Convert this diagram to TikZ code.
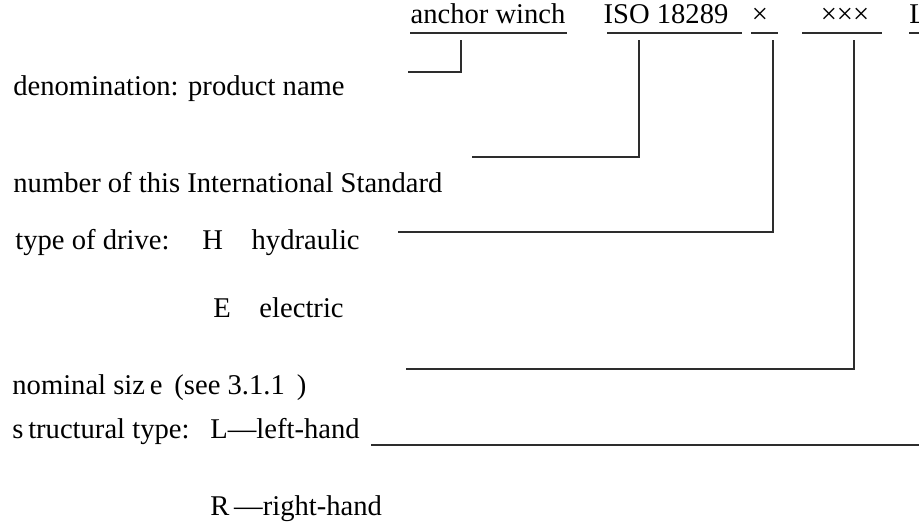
\documentclass[tikz,border=0pt]{standalone}
\usepackage{fontspec}
\setmainfont{Liberation Serif}
\definecolor{rule}{RGB}{45,45,45}
\begin{document}
\begin{tikzpicture}[x=0.5pt,y=-0.5pt,
    lbl/.style={anchor=base west, inner sep=0pt, font=\fontsize{14.3}{16}\selectfont},
    field/.style={anchor=base, inner sep=0pt, font=\fontsize{14.3}{16}\selectfont},
    conn/.style={line width=1pt, draw=rule}]
  \useasboundingbox (0,0) rectangle (919,521);

  % designation fields
  \node[field] (name)  at (488,23) {anchor winch};
  \node[field] (std)   at (666,23) {ISO 18289};
  \node[field] (drive) at (760,23) {×};
  \node[field] (size)  at (845,23) {×××};
  \node[field, anchor=base west] (kind) at (909,23) {L};
  \foreach \a/\b in {410/567, 607/742, 751/778, 802/882, 909/925}
    \draw[conn] (\a,33) -- (\b,33);

  % explanations
  \node[lbl] (denom)  at (13,95)  {denomination: product name};
  \node[lbl] (number) at (13,192) {number of this International Standard};
  \node[lbl] (drv)    at (15,249) {type of drive:};
  \node[lbl] (hyd)    at (202,249) {H\hspace{1em}hydraulic};
  \node[lbl] (ele)    at (213,317) {E\hspace{1em}electric};
  \node[lbl] (nom)    at (12,394) {nominal siz\,e\, (see 3.1.1\, )};
  \node[lbl] (struct) at (12,438) {s\,tructural type:};
  \node[lbl] (left)   at (210,438) {L---left-hand};
  \node[lbl] (right)  at (210,515) {R\,---right-hand};

  % leader lines
  \coordinate (t1) at (461,40);  \coordinate (e1) at (408,72);
  \coordinate (t2) at (639,40);  \coordinate (e2) at (472,157);
  \coordinate (t3) at (773,40);  \coordinate (e3) at (398,232);
  \coordinate (t4) at (854,40);  \coordinate (e4) at (406,369);
  \coordinate (t5) at (919,445); \coordinate (e5) at (371,445);
  \draw[conn] (t1) |- (e1);
  \draw[conn] (t2) |- (e2);
  \draw[conn] (t3) |- (e3);
  \draw[conn] (t4) |- (e4);
  \draw[conn] (t5) -- (e5);
\end{tikzpicture}
\end{document}
